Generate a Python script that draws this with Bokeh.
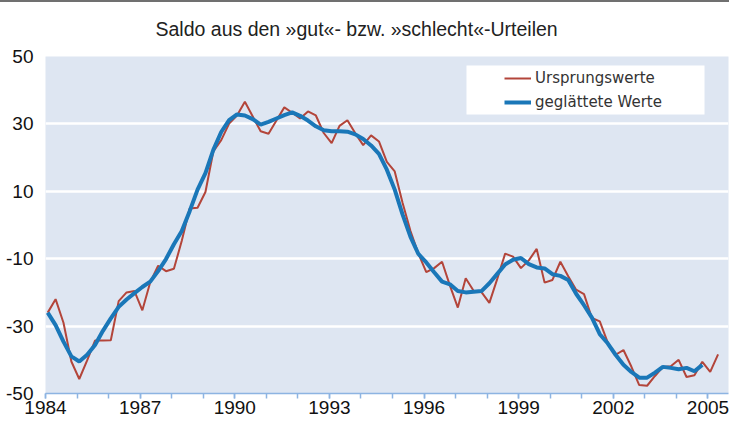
from bokeh.plotting import figure
from bokeh.models import FixedTicker, Legend, LegendItem, BoxAnnotation, Div
from bokeh.layouts import column
from bokeh.embed import file_html
from bokeh.resources import INLINE

# ---- data -------------------------------------------------------------
quarters = [f"{y}Q{q}" for y in range(1984, 2006) for q in range(1, 5)][:86]

ursprungswerte = [
    -26.0, -22.0, -29.0, -40.5,
    -45.7, -40.2, -34.3, -34.3,
    -34.2, -22.6, -20.0, -19.6,
    -25.3, -17.0, -12.1, -13.7,
    -13.0, -4.7, 4.9, 5.1,
    9.8, 21.8, 25.2, 30.1,
    32.5, 36.6, 32.2, 27.8,
    27.1, 31.0, 34.9, 33.3,
    31.6, 33.7, 32.5, 27.3,
    24.3, 29.4, 31.1, 27.2,
    23.7, 26.6, 24.8, 18.7,
    15.9, 6.5, -1.8, -8.5,
    -14.0, -12.8, -10.9, -18.0,
    -24.5, -15.8, -19.5, -19.9,
    -23.1, -16.0, -8.5, -9.4,
    -12.8, -10.5, -7.1, -17.1,
    -16.3, -10.9, -15.2, -19.2,
    -20.5, -27.6, -28.6, -34.8,
    -38.5, -37.1, -42.0, -47.5,
    -47.7, -44.8, -42.1, -41.9,
    -40.0, -45.1, -44.6, -40.6,
    -43.6, -38.4,
]

geglaettet = [
    -26.0, -29.7, -34.6, -39.0,
    -40.5, -38.5, -35.6, -31.4,
    -27.7, -24.3, -22.1, -20.2,
    -18.4, -16.8, -13.7, -10.1,
    -5.7, -1.8, 4.1, 10.5,
    15.4, 22.3, 27.6, 31.1,
    32.8, 32.5, 31.4, 29.8,
    30.6, 31.6, 32.6, 33.4,
    32.4, 31.0, 29.3, 28.1,
    27.8, 27.8, 27.7, 26.9,
    25.5, 23.6, 21.1, 16.4,
    10.5, 3.1, -3.5, -8.6,
    -11.1, -14.0, -16.8, -17.6,
    -19.6, -20.0, -19.8, -19.6,
    -17.3, -14.5, -11.7, -10.3,
    -9.8, -11.6, -12.6, -12.9,
    -14.6, -15.1, -16.3, -20.4,
    -23.8, -27.5, -32.4, -35.1,
    -38.5, -41.5, -43.6, -45.3,
    -45.3, -43.8, -42.1, -42.4,
    -42.8, -42.4, -43.4, -41.5,
]

year_labels = list(range(1984, 2006, 3))
year_ticks = list(range(1984, 2006))
y_ticks = [-50, -30, -10, 10, 30, 50]

title_text = "Saldo aus den »gut«- bzw. »schlecht«-Urteilen"
label_orig = "Ursprungswerte"
label_smooth = "geglättete Werte"


def qpos(label):
    y, q = label.split("Q")
    return int(y) + (int(q) - 1) * 0.25 + 0.07


x_orig = [qpos(s) for s in quarters]
x_smooth = x_orig[:len(geglaettet)]

FRAME_W, FRAME_H = 683, 337

# ---- figure -----------------------------------------------------------
p = figure(
    frame_width=FRAME_W, frame_height=FRAME_H,
    x_range=(1984, 2005.65), y_range=(-50, 50),
    output_backend="svg", toolbar_location=None,
    min_border_left=45, min_border_right=1, min_border_top=54, min_border_bottom=0,
)

p.title.text = title_text
p.title.align = "left"
p.title.vertical_align = "top"
p.title.offset = 110
p.title.standoff = 29
p.title.text_font = "Liberation Sans"
p.title.text_font_size = "19.5px"
p.title.text_font_style = "normal"
p.title.text_color = "#222222"

p.background_fill_color = "#dee6f2"
p.border_fill_color = "white"
p.outline_line_color = None

p.xgrid.visible = False
p.ygrid.ticker = FixedTicker(ticks=y_ticks)
p.ygrid.grid_line_color = "white"
p.ygrid.grid_line_width = 2.5

p.yaxis.ticker = FixedTicker(ticks=y_ticks)
p.yaxis.major_label_overrides = {t: str(t) for t in y_ticks}
p.yaxis.axis_line_color = None
p.yaxis.major_tick_line_color = None
p.yaxis.minor_tick_line_color = None
p.yaxis.major_tick_out = 0
p.yaxis.major_label_standoff = 12
p.yaxis.major_label_text_font = "Liberation Sans"
p.yaxis.major_label_text_font_size = "19px"
p.yaxis.major_label_text_color = "#111111"

xax = p.xaxis[0]
xax.ticker = FixedTicker(ticks=year_labels, minor_ticks=year_ticks)
xax.axis_line_color = "#8db4e2"
xax.axis_line_width = 1.5
xax.major_tick_line_color = "#8db4e2"
xax.minor_tick_line_color = "#8db4e2"
xax.major_tick_line_width = 1.5
xax.minor_tick_line_width = 1.5
xax.major_tick_in = 0
xax.major_tick_out = 5
xax.minor_tick_in = 0
xax.minor_tick_out = 5
xax.major_label_standoff = 2
xax.major_label_text_font = "Liberation Sans"
xax.major_label_text_font_size = "19px"
xax.major_label_text_color = "#111111"

r_orig = p.line(x_orig, ursprungswerte, line_color="#b3453a", line_width=2)
r_smooth = p.line(x_smooth, geglaettet, line_color="#1a77b8", line_width=4)

box = BoxAnnotation(
    left=421, right=659, bottom=FRAME_H - 58, top=FRAME_H - 9,
    left_units="screen", right_units="screen", bottom_units="screen", top_units="screen",
    fill_color="white", fill_alpha=1.0, line_color=None,
)
p.add_layout(box)

legend = Legend(
    items=[LegendItem(label=label_orig, renderers=[r_orig]),
           LegendItem(label=label_smooth, renderers=[r_smooth])],
    location=(459, FRAME_H - 57),
    padding=2, spacing=2, margin=0,
    glyph_width=27, glyph_height=22, label_height=22, label_standoff=4,
    label_text_font="DejaVu Sans", label_text_font_size="15px", label_text_color="#333333",
    background_fill_alpha=0.0, border_line_color=None,
)
p.add_layout(legend)

top_line = Div(text="", width=729, height=2, margin=0,
               styles={"background-color": "#707070"})

layout = column(top_line, p, spacing=0)

open("out.html", "w").write(file_html(layout, INLINE))
